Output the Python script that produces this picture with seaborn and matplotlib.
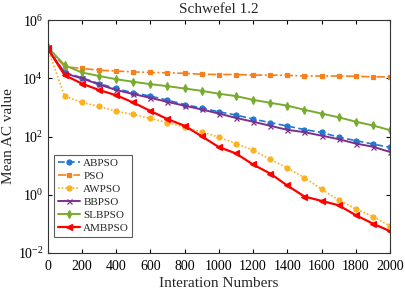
import numpy as np
import pandas as pd
import matplotlib
matplotlib.use("Agg")
import matplotlib.pyplot as plt
import seaborn as sns
from matplotlib.ticker import LogFormatterMathtext, NullLocator, FixedLocator

# iterations sampled every 100
iters = list(range(0, 2001, 100))

# log10 of mean AC value
abpso_log = [5.03, 4.20, 4.02, 3.82, 3.65, 3.50, 3.39, 3.25, 3.10, 2.98, 2.85,
             2.74, 2.60, 2.48, 2.36, 2.24, 2.14, 1.98, 1.86, 1.74, 1.63]
pso_log = [5.03, 4.40, 4.34, 4.28, 4.25, 4.22, 4.20, 4.19, 4.17, 4.14, 4.13,
           4.13, 4.11, 4.11, 4.10, 4.08, 4.08, 4.08, 4.07, 4.05, 4.05]
awpso_log = [5.03, 3.39, 3.17, 3.04, 2.87, 2.76, 2.62, 2.48, 2.33, 2.16, 1.98,
             1.76, 1.53, 1.22, 0.92, 0.59, 0.19, -0.18, -0.48, -0.75, -1.07]
bbpso_log = [5.03, 4.17, 4.00, 3.79, 3.60, 3.46, 3.33, 3.19, 3.06, 2.93, 2.79,
             2.64, 2.51, 2.37, 2.23, 2.15, 2.03, 1.91, 1.76, 1.65, 1.47]
slbpso_log = [5.08, 4.45, 4.20, 4.08, 3.97, 3.88, 3.80, 3.73, 3.65, 3.57, 3.47,
              3.39, 3.26, 3.16, 3.06, 2.92, 2.79, 2.66, 2.51, 2.38, 2.22]
ambpso_log = [5.03, 4.11, 3.82, 3.60, 3.42, 3.17, 2.88, 2.60, 2.37, 2.01, 1.64,
              1.42, 1.04, 0.73, 0.32, -0.06, -0.21, -0.36, -0.70, -0.99, -1.25]

series = {
    "ABPSO": abpso_log,
    "PSO": pso_log,
    "AWPSO": awpso_log,
    "BBPSO": bbpso_log,
    "SLBPSO": slbpso_log,
    "AMBPSO": ambpso_log,
}

styles = {
    "ABPSO": dict(color="#1f78d1", ls=(0, (4, 2)), marker="o", ms=3.6, lw=1.2),
    "PSO": dict(color="#f7801a", ls=(0, (5, 1.5, 1.2, 1.5)), marker="s", ms=3.4, lw=1.2),
    "AWPSO": dict(color="#fbb21f", ls=(0, (1, 1.2)), marker="o", ms=3.6, lw=1.2),
    "BBPSO": dict(color="#7e2f8e", ls="-", marker="x", ms=3.6, lw=1.4),
    "SLBPSO": dict(color="#77ac30", ls="-", marker="d", ms=4.2, lw=1.4),
    "AMBPSO": dict(color="#ff0000", ls="-", marker="<", ms=4.0, lw=1.6),
}

sns.set_style("ticks")
plt.rcParams["font.family"] = ["Liberation Serif", "DejaVu Serif"]
plt.rcParams["mathtext.fontset"] = "stix"

fig = plt.figure(figsize=(4.06, 2.93), dpi=100)
ax = fig.add_axes([0.117, 0.1365, 0.8436, 0.795])

for name, vals in series.items():
    st = styles[name]
    df = pd.DataFrame({"iter": iters, "val": np.power(10.0, vals)})
    sns.lineplot(data=df, x="iter", y="val", ax=ax, color=st["color"],
                 linestyle=st["ls"], marker=st["marker"], markersize=st["ms"],
                 markeredgewidth=0.9, markeredgecolor=st["color"],
                 linewidth=st["lw"], label=name)

ax.set_yscale("log")
ax.set_xlim(0, 2000)
ax.set_ylim(1e-2, 1e6)
ax.set_xticks(range(0, 2001, 200))
ax.yaxis.set_major_locator(FixedLocator([1e-2, 1e0, 1e2, 1e4, 1e6]))
ax.yaxis.set_minor_locator(NullLocator())
ax.yaxis.set_major_formatter(LogFormatterMathtext())
ax.tick_params(direction="in", top=True, right=True, labelsize=10,
               length=3, width=0.8, colors="black")
ax.tick_params(axis="x", pad=5)
ax.tick_params(axis="y", pad=3)
for sp in ax.spines.values():
    sp.set_linewidth(0.8)
    sp.set_color("#333333")

ax.set_title("Schwefel 1.2", fontsize=11, pad=5)
ax.set_xlabel("Interation Numbers", fontsize=11, labelpad=3)
ax.set_ylabel("Mean AC value", fontsize=11, labelpad=2)

leg = ax.legend(loc="lower left", bbox_to_anchor=(0.02, 0.07), borderaxespad=0,
                fontsize=8, frameon=True, fancybox=False, handlelength=2.0,
                handletextpad=0.3, labelspacing=0.3, borderpad=0.3)
leg.get_frame().set_edgecolor("#333333")
leg.get_frame().set_linewidth(0.8)

fig.savefig("out.png", dpi=100)
